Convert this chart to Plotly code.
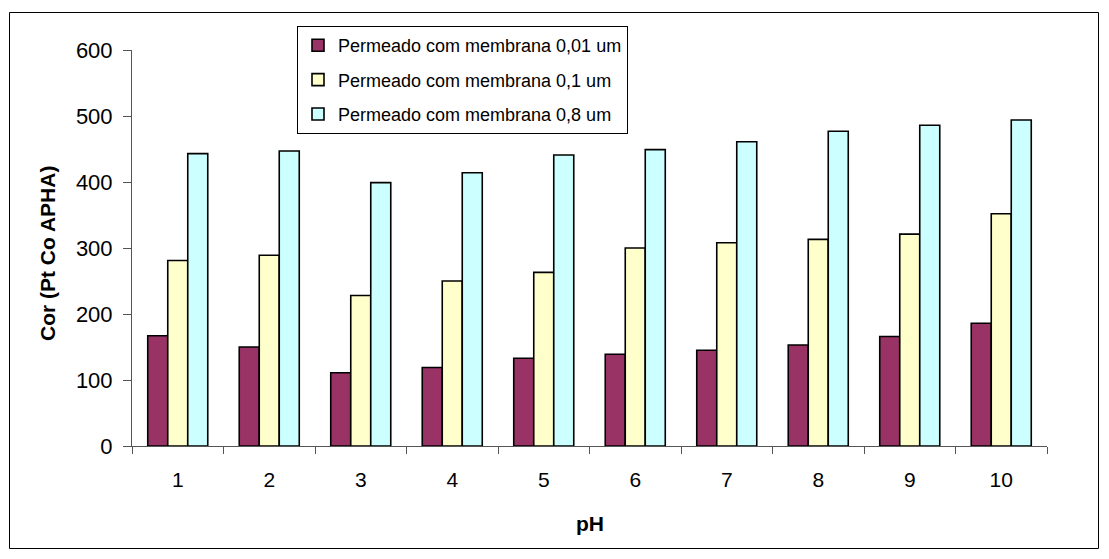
import plotly.graph_objects as go

# pH categories and colour readings (Pt Co APHA) of each permeate
ph_labels = ["1", "2", "3", "4", "5", "6", "7", "8", "9", "10"]
series_names = [
    "Permeado com membrana 0,01 um",
    "Permeado com membrana 0,1 um",
    "Permeado com membrana 0,8 um",
]
cor_001 = [167, 150, 111, 119, 133, 139, 145, 153, 166, 186]
cor_01 = [281, 289, 228, 250, 263, 300, 308, 313, 321, 352]
cor_08 = [443, 447, 399, 414, 441, 449, 461, 477, 486, 494]
y_ticks = [0, 100, 200, 300, 400, 500, 600]

colors = ["#993366", "#FFFFCC", "#CCFFFF"]
FONT = "Liberation Sans, Arial, sans-serif"

W, H = 1109, 559
ML, MR, MT, MB = 132, 62, 50, 113
PW, PH = W - ML - MR, H - MT - MB


def px_x(p):
    return (p - ML) / PW


def px_y(p):
    return (H - MB - p) / PH


fig = go.Figure()
for i, (name, vals) in enumerate(zip(series_names, [cor_001, cor_01, cor_08])):
    fig.add_trace(go.Bar(
        x=ph_labels, y=vals, name=name,
        legendgroup=f"g{i}",
        marker=dict(color=colors[i], line=dict(color="black", width=1.6)),
    ))

fig.update_layout(
    width=W, height=H,
    margin=dict(l=ML, r=MR, t=MT, b=MB),
    paper_bgcolor="white", plot_bgcolor="white",
    barmode="group", bargap=0.344, bargroupgap=0,
    font=dict(family=FONT, color="black"),
    legend=dict(
        x=px_x(297), y=px_y(26), xanchor="left", yanchor="top",
        bgcolor="white", bordercolor="black", borderwidth=1,
        font=dict(size=18, family=FONT), tracegroupgap=8,
    ),
    showlegend=True,
)
fig.update_xaxes(
    type="category", showline=True, linecolor="#555555", linewidth=1,
    ticks="outside", tickson="boundaries", ticklen=7, tickcolor="#555555",
    tickfont=dict(size=21, family=FONT), ticklabelstandoff=15,
    showgrid=False, zeroline=False,
)
fig.update_yaxes(
    range=[0, 600], tickvals=y_ticks, showline=True, linecolor="#555555",
    linewidth=1, ticks="outside", ticklen=8, tickcolor="#555555",
    tickfont=dict(size=22, family=FONT), ticklabelstandoff=6,
    showgrid=False, zeroline=False,
)

fig.add_annotation(
    text="<b>Cor (Pt Co APHA)</b>", textangle=-90,
    xref="paper", yref="paper", x=px_x(47), y=px_y(254),
    xanchor="center", yanchor="middle", showarrow=False,
    font=dict(size=21, family=FONT, color="black"),
)
fig.add_annotation(
    text="<b>pH</b>", xref="paper", yref="paper",
    x=px_x(590), y=px_y(523), xanchor="center", yanchor="middle",
    showarrow=False, font=dict(size=21, family=FONT, color="black"),
)

# outer chart frame
fig.add_shape(
    type="rect", xref="paper", yref="paper",
    x0=px_x(9.5), x1=px_x(1098.5), y0=px_y(548.5), y1=px_y(12.5),
    line=dict(color="black", width=1), fillcolor="rgba(0,0,0,0)", layer="below",
)

fig.write_html("out.html")
